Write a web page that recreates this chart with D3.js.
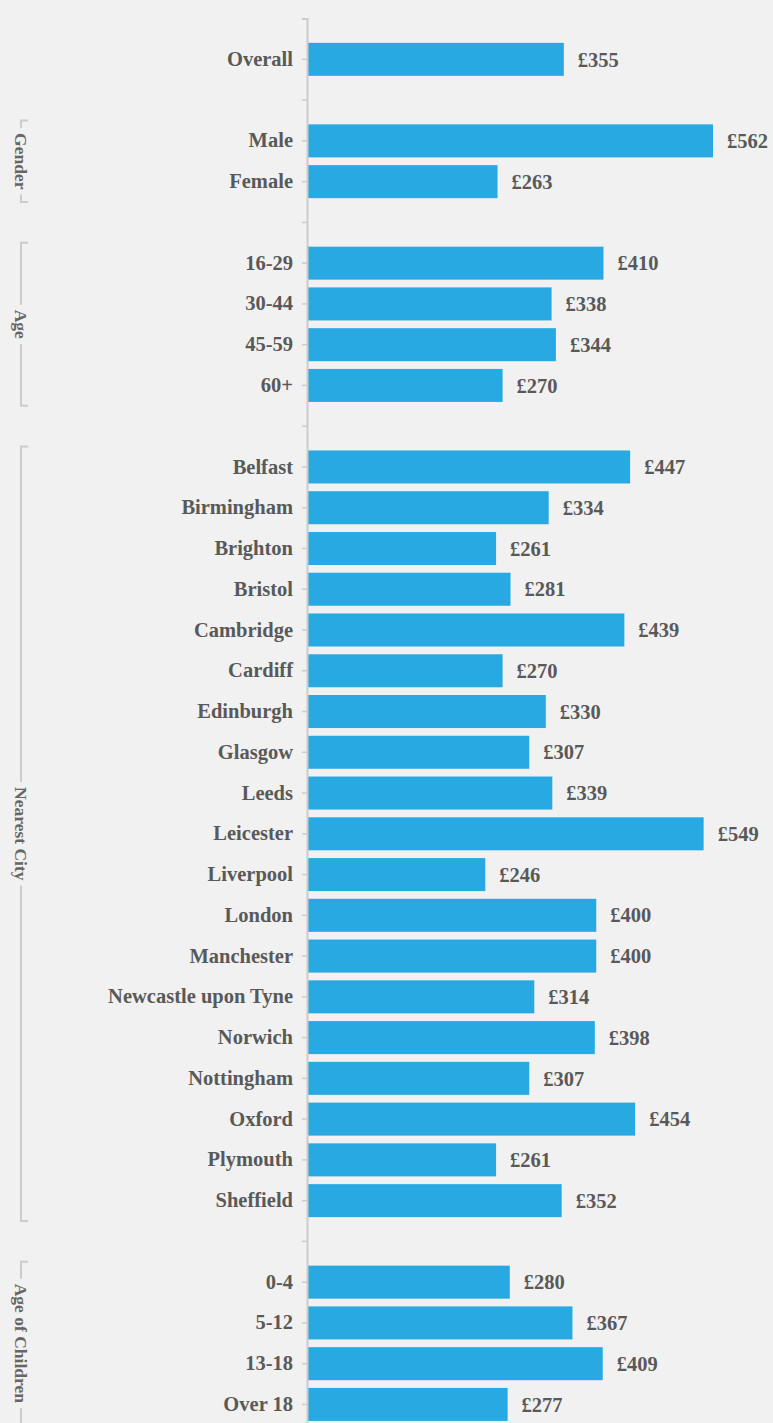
<!DOCTYPE html>
<html>
<head>
<meta charset="utf-8">
<script src="https://cdn.jsdelivr.net/npm/d3@7"></script>
<style>
  html, body { margin: 0; padding: 0; background: #f1f1f1; }
  svg { display: block; }
  text { font-family: "Liberation Serif", "Times New Roman", serif; font-weight: bold; }
</style>
</head>
<body>
<svg id="chart" width="773" height="1423"></svg>
<script>
// Average spend by respondent group (GBP)
const groups = ["", "Gender", "Age", "Nearest City", "Age of Children"];
const groupCategories = [
  ["Overall"],
  ["Male", "Female"],
  ["16-29", "30-44", "45-59", "60+"],
  ["Belfast", "Birmingham", "Brighton", "Bristol", "Cambridge", "Cardiff", "Edinburgh",
   "Glasgow", "Leeds", "Leicester", "Liverpool", "London", "Manchester",
   "Newcastle upon Tyne", "Norwich", "Nottingham", "Oxford", "Plymouth", "Sheffield"],
  ["0-4", "5-12", "13-18", "Over 18"]
];
const groupValues = [
  [355],
  [562, 263],
  [410, 338, 344, 270],
  [447, 334, 261, 281, 439, 270, 330, 307, 339, 549, 246, 400, 400, 314, 398, 307, 454, 261, 352],
  [280, 367, 409, 277]
];
const currency = "£";

// Flatten into rows, with an empty spacer row between groups
const rows = [];
groupCategories.forEach((cats, gi) => {
  if (gi > 0) rows.push({ key: "spacer-" + gi, label: "", value: null, group: gi });
  cats.forEach((c, i) => rows.push({ key: c, label: c, value: groupValues[gi][i], group: gi }));
});

const svg = d3.select("#chart");
const axisX = 307;
const plotTop = 18.6;
const step = 40.76;
const nRows = rows.length;
const pInner = 0.19;
const pOuter = 0.595;

const y = d3.scaleBand()
  .domain(rows.map(r => r.key))
  .range([plotTop, plotTop + step * (nRows - pInner + 2 * pOuter)])
  .paddingInner(pInner)
  .paddingOuter(pOuter);

const x = d3.scaleLinear()
  .domain([0, d3.max(groupValues.flat())])
  .range([axisX + 1, 713]);

const textColor = "#595959";
const lineColor = "#cccccc";

// Bars
svg.append("g").selectAll("rect")
  .data(rows.filter(r => r.value !== null))
  .join("rect")
  .attr("x", x(0))
  .attr("y", d => y(d.key))
  .attr("width", d => x(d.value) - x(0))
  .attr("height", y.bandwidth())
  .attr("fill", "#29a9e1");

// Value labels
svg.append("g").selectAll("text")
  .data(rows.filter(r => r.value !== null))
  .join("text")
  .attr("x", d => x(d.value) + 14)
  .attr("y", d => y(d.key) + y.bandwidth() / 2)
  .attr("dy", "0.35em")
  .attr("fill", textColor)
  .style("font-size", "20.5px")
  .text(d => currency + d.value);

// Category axis
const labelOf = new Map(rows.map(r => [r.key, r.label]));
const axis = svg.append("g")
  .attr("transform", `translate(${axisX},0)`)
  .call(d3.axisLeft(y).tickSize(5).tickPadding(9).tickFormat(k => labelOf.get(k)));
axis.select(".domain").attr("stroke", lineColor).attr("stroke-width", 2);
axis.selectAll(".tick line").attr("stroke", lineColor).attr("stroke-width", 1.5);
axis.selectAll(".tick text")
  .attr("fill", textColor)
  .style("font-size", "20.5px")
  .style("font-family", "'Liberation Serif', serif")
  .style("font-weight", "bold");

// Group brackets with rotated titles
const bx = 21, tickLen = 7, gap = 5;
groups.forEach((name, gi) => {
  if (!name) return;
  const cats = groupCategories[gi];
  const y0 = y(cats[0]) - y.step() * pInner / 2;
  const y1 = y(cats[cats.length - 1]) + y.bandwidth() + y.step() * pInner / 2;
  const cy = (y0 + y1) / 2;
  const g = svg.append("g");
  const t = g.append("text")
    .attr("transform", `translate(${bx},${cy}) rotate(90)`)
    .attr("text-anchor", "middle")
    .attr("dy", "0.33em")
    .attr("fill", "#666")
    .style("font-size", "17.5px")
    .text(name);
  const half = t.node().getComputedTextLength() / 2 + gap;
  g.append("path")
    .attr("d", `M${bx + tickLen},${y0}H${bx}V${cy - half}M${bx},${cy + half}V${y1}H${bx + tickLen}`)
    .attr("fill", "none")
    .attr("stroke", lineColor)
    .attr("stroke-width", 2);
});
</script>
</body>
</html>
